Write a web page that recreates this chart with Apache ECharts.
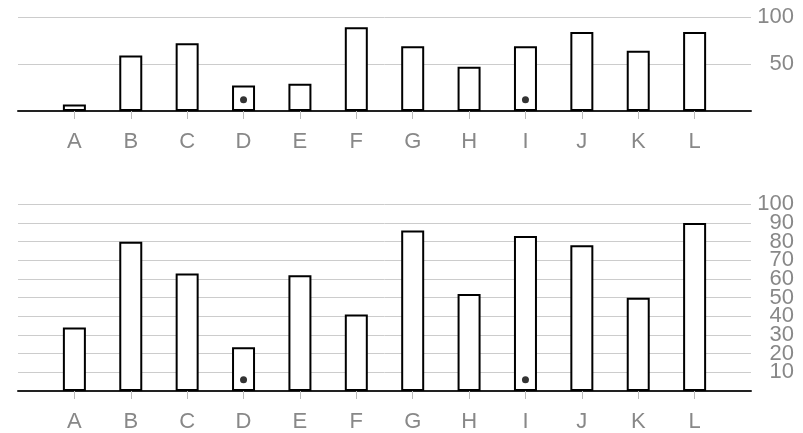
<!DOCTYPE html>
<html><head><meta charset="utf-8">
<script src="https://cdn.jsdelivr.net/npm/echarts@6/dist/echarts.min.js"></script>
<style>html,body{margin:0;padding:0;background:#fff}#c{width:803px;height:433px}</style>
</head><body><div id="c"></div>
<script>
var categories = ['A','B','C','D','E','F','G','H','I','J','K','L'];
var topValues = [7, 59, 72, 27, 29, 89, 69, 47, 69, 84, 64, 84];
var bottomValues = [34, 80, 63, 23.5, 62, 41, 86, 52, 83, 78, 50, 90];
var markedCategories = ['D', 'I'];
var topMarkValue = 12;
var bottomMarkValue = 6;
var topTicks = [50, 100];
var bottomTicks = [10, 20, 30, 40, 50, 60, 70, 80, 90, 100];

var positions = categories.map(function (c, i) { return i + 1; });
function barData(vals) { return vals.map(function (v, i) { return [i + 1, v]; }); }
function markData(v) {
  return markedCategories.map(function (c) { return [categories.indexOf(c) + 1, v]; });
}
var FONT = 'Liberation Sans';
function xAxis(gi) {
  return {
    type: 'value', gridIndex: gi, min: 0, max: categories.length + 1, interval: 1,
    axisLine: { show: true, onZero: true, lineStyle: { color: '#222', width: 2 } },
    axisTick: { show: true, customValues: positions, length: 8, lineStyle: { color: '#bbb', width: 1 } },
    axisLabel: { customValues: positions, margin: 20, color: '#888', fontSize: 22, fontFamily: FONT,
      showMinLabel: true, showMaxLabel: true,
      formatter: function (v) { return categories[Math.round(v) - 1] || ''; } },
    splitLine: { show: false }
  };
}
function yAxis(gi, interval, ticks, split) {
  return {
    type: 'value', gridIndex: gi, position: 'right', offset: 0, min: 0, max: 100, interval: interval,
    axisLine: { show: false }, axisTick: { show: false },
    splitLine: { show: split, lineStyle: { color: '#ccc', width: 1 } },
    axisLabel: { customValues: ticks, align: 'right', margin: 43, color: '#888', fontSize: 22,
      fontFamily: FONT, padding: [6, 0, 0, 0], showMinLabel: true, showMaxLabel: true }
  };
}
// bottom labels split across two overlaid axes so neighbouring labels are never auto-hidden
var bottomOdd = bottomTicks.filter(function (t, i) { return i % 2 === 0; });
var bottomEven = bottomTicks.filter(function (t, i) { return i % 2 === 1; });
var barStyle = { color: '#fff', borderColor: '#000', borderWidth: 2 };
var chart = echarts.init(document.getElementById('c'), null, { renderer: 'canvas' });
chart.setOption({
  animation: false,
  backgroundColor: '#fff',
  grid: [
    { left: 18, right: 52, top: 17, height: 94 },
    { left: 18, right: 52, top: 204.3, height: 187.4 }
  ],
  xAxis: [xAxis(0), xAxis(1)],
  yAxis: [yAxis(0, 50, topTicks, true), yAxis(1, 10, bottomOdd, true), yAxis(1, 10, bottomEven, false)],
  series: [
    { type: 'bar', xAxisIndex: 0, yAxisIndex: 0, barWidth: 23, data: barData(topValues), itemStyle: barStyle, silent: true },
    { type: 'scatter', xAxisIndex: 0, yAxisIndex: 0, symbolSize: 7, data: markData(topMarkValue), itemStyle: { color: '#000' }, z: 5 },
    { type: 'bar', xAxisIndex: 1, yAxisIndex: 1, barWidth: 23, data: barData(bottomValues), itemStyle: barStyle, silent: true },
    { type: 'scatter', xAxisIndex: 1, yAxisIndex: 1, symbolSize: 7, data: markData(bottomMarkValue), itemStyle: { color: '#000' }, z: 5 }
  ]
});
</script></body></html>
